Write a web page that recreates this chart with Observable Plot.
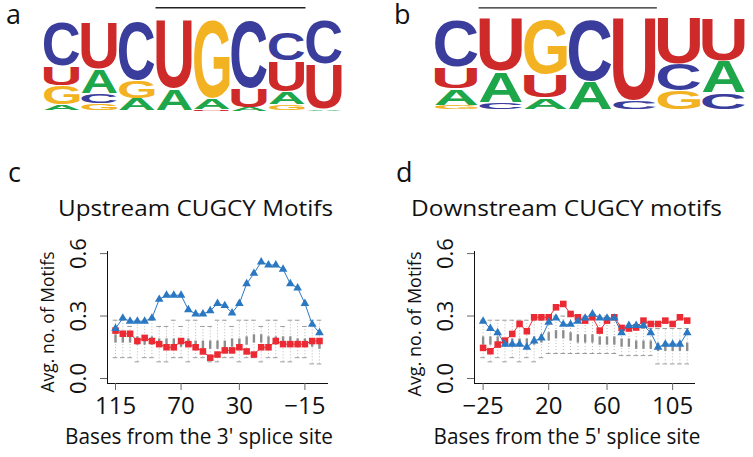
<!DOCTYPE html>
<html><head><meta charset="utf-8">
<script src="https://cdn.jsdelivr.net/npm/d3@7"></script>
<script src="https://cdn.jsdelivr.net/npm/@observablehq/plot@0.6"></script>
<style>
body{margin:0;background:#fff;}
#fig{position:relative;width:753px;height:457px;overflow:hidden;background:#fff;font-family:"Open Sans",sans-serif;}
#fig > svg{position:absolute;}
.chart g[aria-label^="y-axis"] text{font-size:22px;fill:#111;}
.chart g[aria-label^="x-axis"] text{font-size:24px;fill:#111;}
.chart g[aria-label^="x-axis"] path,.chart g[aria-label^="y-axis"] path,
.chart g[aria-label^="x-axis"] line,.chart g[aria-label^="y-axis"] line{stroke:#666;}
</style></head><body><div id="fig"></div>
<script>
// ---------- DATA ----------
// Sequence logo a (letters listed top -> bottom per column, heights in bits)
const logoALetters = ["CUGA","UACG","CGA","UA","GAU","CUA","CUAG","CUA"];
const logoAHeights = [[0.99,0.42,0.42,0.14],[1.03,0.53,0.22,0.17],[1.31,0.41,0.27],[1.51,0.49],[1.72,0.24,0.03],[1.49,0.42,0.08],[0.62,0.67,0.27,0.15],[0.97,1.0,0.03]];
const logoAMotif = {start: 3, end: 7};
// Sequence logo b
const logoBLetters = ["CUAG","UAC","GUA","CA","UC","UCG","UAC"];
const logoBHeights = [[1.04,0.47,0.36,0.10],[1.16,0.66,0.17],[1.19,0.51,0.26],[1.33,0.63],[1.80,0.20],[1.0,0.59,0.41],[0.93,0.70,0.37]];
const logoBMotif = {start: 1, end: 5};
const letterColors = {A: "#1ea64b", C: "#3a3d9c", G: "#f3b222", U: "#cf2a2a"};

// Panel c: upstream (bases from the 3' splice site)
const posUp = [115,110,105,100,95,90,85,80,75,70,65,60,55,50,45,40,35,30,25,20,15,10,5,0,-5,-10,-15,-20,-25];
const blueUp = [0.24,0.29,0.275,0.275,0.275,0.29,0.38,0.40,0.40,0.40,0.33,0.31,0.31,0.325,0.36,0.35,0.315,0.36,0.455,0.505,0.56,0.545,0.545,0.525,0.455,0.435,0.36,0.26,0.22];
const redUp = [0.23,0.215,0.215,0.18,0.195,0.18,0.165,0.15,0.15,0.18,0.165,0.15,0.13,0.10,0.115,0.135,0.135,0.15,0.13,0.115,0.15,0.15,0.18,0.165,0.165,0.165,0.165,0.18,0.18];
const q3Up = [0.21,0.21,0.21,0.20,0.20,0.20,0.19,0.19,0.19,0.19,0.19,0.18,0.18,0.18,0.18,0.18,0.19,0.19,0.20,0.21,0.21,0.20,0.20,0.20,0.20,0.19,0.19,0.19,0.19];
const q1Up = [0.17,0.17,0.17,0.16,0.16,0.16,0.15,0.15,0.15,0.15,0.15,0.14,0.14,0.14,0.14,0.14,0.15,0.15,0.16,0.17,0.17,0.16,0.16,0.16,0.16,0.15,0.15,0.15,0.14];
const hiUp = [0.28,0.28,0.25,0.28,0.28,0.28,0.25,0.25,0.28,0.25,0.28,0.28,0.25,0.25,0.28,0.28,0.25,0.28,0.28,0.28,0.25,0.28,0.28,0.25,0.28,0.28,0.25,0.28,0.28];
const loUp = [0.10,0.10,0.10,0.08,0.10,0.10,0.08,0.08,0.10,0.10,0.08,0.10,0.10,0.08,0.08,0.10,0.10,0.08,0.10,0.10,0.08,0.10,0.10,0.08,0.08,0.10,0.10,0.07,0.07];
const ticksUp = [115,70,30,-15];

// Panel d: downstream (bases from the 5' splice site)
const posDown = [-25,-20,-15,-10,-5,0,5,10,15,20,25,30,35,40,45,50,55,60,65,70,75,80,85,90,95,100,105,110,115];
const blueDown = [0.275,0.24,0.22,0.165,0.165,0.165,0.15,0.18,0.195,0.27,0.29,0.26,0.26,0.275,0.29,0.31,0.29,0.29,0.29,0.22,0.255,0.255,0.255,0.22,0.15,0.165,0.165,0.165,0.22];
const redDown = [0.147,0.131,0.163,0.182,0.214,0.262,0.227,0.294,0.294,0.294,0.342,0.358,0.31,0.294,0.278,0.294,0.23,0.278,0.294,0.243,0.24,0.245,0.278,0.262,0.262,0.278,0.262,0.294,0.278];
const q3Down = [0.20,0.20,0.20,0.19,0.19,0.19,0.19,0.20,0.21,0.22,0.23,0.23,0.22,0.21,0.21,0.21,0.20,0.20,0.20,0.19,0.19,0.18,0.18,0.18,0.17,0.17,0.17,0.17,0.17];
const q1Down = [0.16,0.16,0.16,0.15,0.15,0.15,0.15,0.16,0.17,0.18,0.19,0.19,0.18,0.17,0.17,0.17,0.16,0.16,0.16,0.15,0.15,0.14,0.14,0.14,0.13,0.13,0.13,0.13,0.13];
const hiDown = [0.28,0.28,0.28,0.28,0.28,0.28,0.28,0.28,0.28,0.30,0.30,0.30,0.30,0.30,0.30,0.30,0.30,0.30,0.30,0.24,0.24,0.24,0.24,0.24,0.24,0.24,0.24,0.24,0.24];
const loDown = [0.10,0.08,0.10,0.08,0.10,0.08,0.10,0.08,0.10,0.12,0.12,0.12,0.12,0.12,0.12,0.12,0.12,0.12,0.12,0.11,0.11,0.11,0.11,0.11,0.07,0.07,0.07,0.07,0.07];
const ticksDown = [-25,20,60,105];

const yTicks = [0, 0.3, 0.6];
const panelLabels = ["a","b","c","d"];
const chartTitles = ["Upstream CUGCY Motifs","Downstream CUGCY motifs"];
const yTitle = "Avg. no. of Motifs";
const xTitles = ["Bases from the 3' splice site","Bases from the 5' splice site"];

// ---------- DRAWING ----------
const BLUE = "#2b78c2", RED = "#ec2a33";
const fig = document.getElementById("fig");
const LOGO_FONT = "Liberation Sans";
const ctx = document.createElement("canvas").getContext("2d");
ctx.font = `bold 100px "${LOGO_FONT}"`;
function glyph(ch) {
  const m = ctx.measureText(ch);
  return {l: m.actualBoundingBoxLeft, r: m.actualBoundingBoxRight, a: m.actualBoundingBoxAscent, d: m.actualBoundingBoxDescent};
}

function logo(letters, heights, motif, lay) {
  const rows = [];
  letters.forEach((col, i) => {
    let top = d3.sum(heights[i]);
    col.split("").forEach((ch, j) => {
      const h = heights[i][j];
      rows.push({col: i, letter: ch, y1: top - h, y2: top});
      top -= h;
    });
  });
  const plot = Plot.plot({
    width: lay.width, height: lay.height,
    marginLeft: lay.ml, marginRight: lay.mr, marginTop: lay.mt, marginBottom: lay.mb,
    style: {background: "transparent", overflow: "visible"},
    color: {type: "identity"},
    x: {domain: [0, letters.length], axis: null},
    y: {domain: [0, 2], axis: null},
    marks: [
      Plot.text(rows, {x: d => d.col + 0.5, y: d => (d.y1 + d.y2) / 2, text: "letter",
        fill: d => letterColors[d.letter], fontSize: 100, fontWeight: "bold", fontFamily: LOGO_FONT}),
      Plot.ruleY([motif], {x1: "start", x2: "end", y: () => lay.barY, stroke: "#222", strokeWidth: 1.4})
    ]
  });
  const sx = plot.scale("x"), sy = plot.scale("y");
  const X = d3.scaleLinear(sx.domain, sx.range), Y = d3.scaleLinear(sy.domain, sy.range);
  const texts = plot.querySelectorAll('g[aria-label="text"] text');
  texts.forEach((t, i) => {
    const d = rows[i];
    const g = glyph(d.letter);
    const x0 = X(d.col) + 1, x1 = X(d.col + 1) - 1;
    const pad = (Y(d.y1) - Y(d.y2)) > 4 ? 0.6 : 0;
    const yT = Y(d.y2) + pad, yB = Y(d.y1) - pad;
    const kx = (x1 - x0) / (g.l + g.r), ky = Math.max(0.001, (yB - yT)) / (g.a + g.d);
    t.parentNode.removeAttribute("transform");
    ["x","y","dy"].forEach(a => t.removeAttribute(a));
    t.querySelectorAll("tspan").forEach(s => { ["x","y","dy"].forEach(a => s.removeAttribute(a)); });
    t.setAttribute("text-anchor", "start");
    t.setAttribute("transform", `translate(${x0},${yB}) scale(${kx},${ky}) translate(${g.l},${-g.d})`);
  });
  plot.style.left = lay.left + "px"; plot.style.top = lay.top + "px";
  fig.appendChild(plot);
}

logo(logoALetters, logoAHeights, logoAMotif, {left: 0, top: 0, width: 376, height: 125, ml: 43, mr: 33, mt: 20, mb: 14, barY: 2.28});
logo(logoBLetters, logoBHeights, logoBMotif, {left: 376, top: 0, width: 377, height: 125, ml: 58, mr: 7, mt: 18, mb: 15, barY: 2.23});

const minus = d => d < 0 ? "\u2212" + (-d) : String(d);

function chart(c) {
  const rows = c.pos.map((p, i) => ({pos: p, blue: c.blue[i], red: c.red[i], q1: c.q1[i], q3: c.q3[i], lo: c.lo[i], hi: c.hi[i]}));
  const plot = Plot.plot({
    width: c.width, height: 232,
    marginLeft: c.ml, marginRight: c.mr, marginTop: 26, marginBottom: 74,
    style: {background: "transparent", fontFamily: "Open Sans", color: "#111", overflow: "visible"},
    x: {domain: c.xDomain, ticks: c.ticks, tickFormat: minus, tickSize: 7, tickPadding: 6, line: true, label: null},
    y: {domain: [-0.024, 0.61], ticks: yTicks, tickFormat: d => d.toFixed(1), tickSize: 7, tickPadding: 15, tickRotate: -90, line: true, label: null},
    marks: [
      Plot.ruleX(rows, {x: "pos", y1: "lo", y2: "hi", stroke: "#b0b0b0", strokeWidth: 0.9, strokeDasharray: "1,2"}),
      Plot.ruleY(rows, {y: "hi", x1: d => d.pos - 1.6, x2: d => d.pos + 1.6, stroke: "#9c9c9c", strokeWidth: 1}),
      Plot.ruleY(rows, {y: "lo", x1: d => d.pos - 1.6, x2: d => d.pos + 1.6, stroke: "#9c9c9c", strokeWidth: 1}),
      Plot.ruleX(rows, {x: "pos", y1: "q1", y2: "q3", stroke: "#8d8d8d", strokeWidth: 2.4}),
      Plot.line(rows, {x: "pos", y: "red", stroke: RED, strokeWidth: 1}),
      Plot.dot(rows, {x: "pos", y: "red", symbol: "square", r: 3.7, fill: RED, stroke: "none"}),
      Plot.line(rows, {x: "pos", y: "blue", stroke: BLUE, strokeWidth: 1}),
      Plot.dot(rows, {x: "pos", y: "blue", symbol: "triangle", r: 3.2, fill: BLUE, stroke: "none"})
    ]
  });
  plot.classList.add("chart");
  plot.style.left = c.left + "px"; plot.style.top = "225px";
  fig.appendChild(plot);
}

chart({pos: posUp, blue: blueUp, red: redUp, q1: q1Up, q3: q3Up, lo: loUp, hi: hiUp, ticks: ticksUp,
  xDomain: [120.5, -30.5], left: 0, width: 376, ml: 107, mr: 49});
chart({pos: posDown, blue: blueDown, red: redDown, q1: q1Down, q3: q3Down, lo: loDown, hi: hiDown, ticks: ticksDown,
  xDomain: [-30.9, 120], left: 376, width: 377, ml: 98, mr: 59});

// ---------- TEXT OVERLAY ----------
const svg = d3.select(fig).append("svg").attr("width", 753).attr("height", 457)
  .style("left", "0px").style("top", "0px").attr("font-family", "Open Sans").attr("fill", "#111");
const panelPos = [[6, 24], [394, 24], [8, 182], [396, 182]];
panelLabels.forEach((t, i) => svg.append("text").attr("x", panelPos[i][0]).attr("y", panelPos[i][1]).attr("font-size", 27).text(t));
const titlePos = [[58, 216, 275], [411, 216, 311]];
chartTitles.forEach((t, i) => svg.append("text").attr("x", titlePos[i][0]).attr("y", titlePos[i][1])
  .attr("font-size", 22).attr("textLength", titlePos[i][2]).attr("lengthAdjust", "spacingAndGlyphs").text(t));
const yTitlePos = [[54, 322, 141], [421, 324, 145]];
yTitlePos.forEach(p => svg.append("text").attr("transform", `translate(${p[0]},${p[1]}) rotate(-90)`)
  .attr("text-anchor", "middle").attr("font-size", 19).attr("textLength", p[2]).attr("lengthAdjust", "spacingAndGlyphs").text(yTitle));
const xTitlePos = [[199, 444, 268], [567, 444, 267]];
xTitles.forEach((t, i) => svg.append("text").attr("x", xTitlePos[i][0]).attr("y", xTitlePos[i][1])
  .attr("text-anchor", "middle").attr("font-size", 21).attr("textLength", xTitlePos[i][2]).attr("lengthAdjust", "spacingAndGlyphs").text(t));
</script></body></html>
